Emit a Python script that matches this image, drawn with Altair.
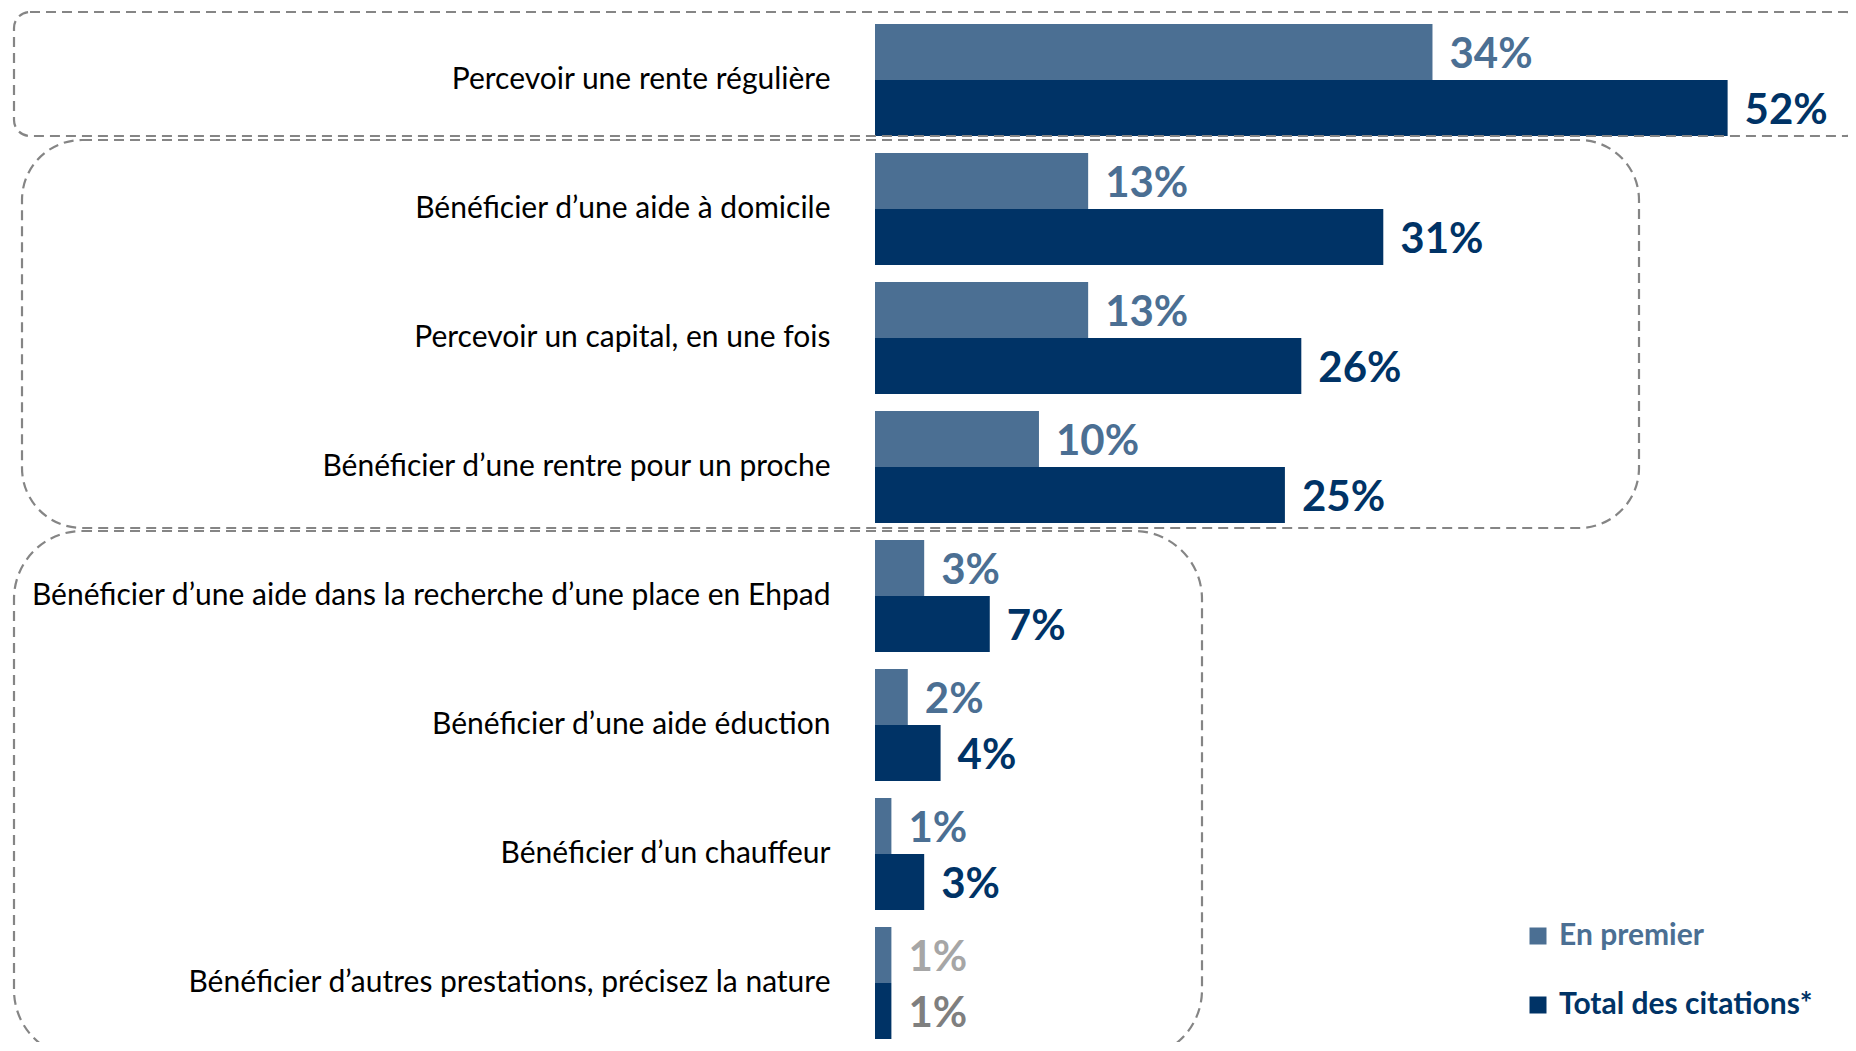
import altair as alt
import pandas as pd

categories = [
    "Percevoir une rente régulière",
    "Bénéficier d’une aide à domicile",
    "Percevoir un capital, en une fois",
    "Bénéficier d’une rentre pour un proche",
    "Bénéficier d’une aide dans la recherche d’une place en Ehpad",
    "Bénéficier d’une aide éduction",
    "Bénéficier d’un chauffeur",
    "Bénéficier d’autres prestations, précisez la nature",
]
series = ["En premier", "Total des citations*"]
en_premier = [34, 13, 13, 10, 3, 2, 1, 1]
total_citations = [52, 31, 26, 25, 7, 4, 3, 1]

LIGHT = "#4B6F93"
DARK = "#003366"
GREY_LIGHT = "#A6A6A6"
GREY_DARK = "#7F7F7F"

rows = []
for i, c in enumerate(categories):
    rows.append({"category": c, "idx": i, "series": series[0], "value": en_premier[i]})
    rows.append({"category": c, "idx": i, "series": series[1], "value": total_citations[i]})
df = pd.DataFrame(rows)

W = 951
H = 1031
FONT = "Lato"

y_enc = alt.Y(
    "category:N",
    sort=categories,
    scale=alt.Scale(domain=categories, paddingInner=0.132, paddingOuter=0.062, align=1),
    axis=alt.Axis(
        title=None, ticks=False, domain=False, labelFont=FONT, labelFontSize=30,
        labelColor="#000000", labelPadding=45, labelLimit=1200,
    ),
)
yoff_enc = alt.YOffset("series:N", sort=series,
                       scale=alt.Scale(domain=series, paddingInner=0, paddingOuter=0))
x_enc = alt.X("value:Q", scale=alt.Scale(domain=[0, 58], nice=False), axis=None)

base = alt.Chart(df).encode(y=y_enc, yOffset=yoff_enc, x=x_enc)

legend = alt.Legend(
    orient="none", legendX=648, legendY=913, title=None, symbolType="square",
    symbolSize=289, symbolStrokeWidth=0, symbolOpacity=1,
    labelFont=FONT, labelFontSize=30, labelFontWeight="bold", labelLimit=600,
    labelColor={"expr": f"datum.value == '{series[0]}' ? '{LIGHT}' : '{DARK}'"},
    labelOffset=6, rowPadding=39, direction="vertical", padding=0,
)

bars = base.mark_bar().encode(
    color=alt.Color("series:N", scale=alt.Scale(domain=series, range=[LIGHT, DARK]), legend=legend)
)

labels = base.transform_calculate(
    txt="datum.value + '%'",
    lc=(f"datum.idx == {len(categories) - 1} ? "
        f"(datum.series == '{series[0]}' ? '{GREY_LIGHT}' : '{GREY_DARK}') : "
        f"(datum.series == '{series[0]}' ? '{LIGHT}' : '{DARK}')"),
).mark_text(
    align="left", baseline="middle", dx=17, dy=3, font=FONT, fontWeight="bold", fontSize=42
).encode(
    text="txt:N",
    color=alt.Color("lc:N", scale=None),
)

# decorative dashed group boxes (page-pixel corners, converted to plot coordinates)
OX, OY = 875, 8
box_specs = [
    (14, 1862, 12, 136, 16),
    (22, 1639, 140, 528, 60),
    (14, 1202, 531, 1058, 68),
]
box_layers = []
for (x1, x2, y1, y2, r) in box_specs:
    box_layers.append(
        alt.Chart(alt.Data(values=[{"k": 1}])).mark_rect(
            fillOpacity=0, stroke="#858585", strokeWidth=2.2, strokeDash=[10, 6], cornerRadius=r
        ).encode(
            x=alt.value(x1 - OX), x2=alt.value(x2 - OX),
            y=alt.value(y1 - OY), y2=alt.value(y2 - OY),
        )
    )

chart = alt.layer(bars, labels, *box_layers).resolve_scale(color="independent").properties(
    width=W, height=H,
    padding={"left": 867, "top": 0, "right": 22, "bottom": 3},
    autosize=alt.AutoSizeParams(type="none"),
    background="white",
).configure_view(stroke=None)

chart.save("out.html", embed_options={"renderer": "svg", "actions": False})
